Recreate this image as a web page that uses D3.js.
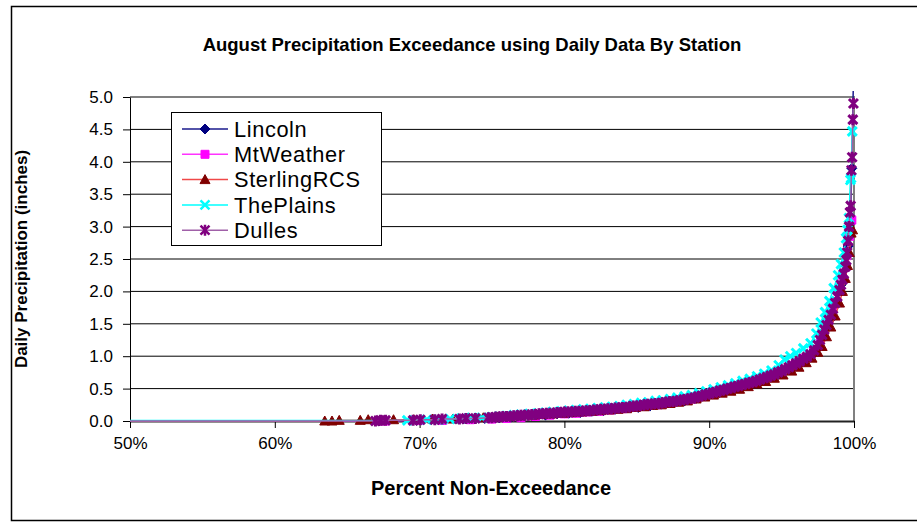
<!DOCTYPE html>
<html>
<head>
<meta charset="utf-8">
<script src="https://cdn.jsdelivr.net/npm/d3@7"></script>
<style>
body { margin: 0; background: #fff; }
svg { display: block; font-family: "Liberation Sans", Arial, sans-serif; }
</style>
</head>
<body>
<svg id="chart" width="917" height="527"></svg>
<script>
// tick values
var xTicks = [50, 60, 70, 80, 90, 100];
var yTicks = [0, 0.5, 1, 1.5, 2, 2.5, 3, 3.5, 4, 4.5, 5];

var stationNames = ["Lincoln", "MtWeather", "SterlingRCS", "ThePlains", "Dulles"];

// [percent non-exceedance, daily precipitation inches]
var lincoln = [[0, 0], [67.2, 0.00], [69.8, 0.01], [71.3, 0.02], [73.0, 0.03], [74.5, 0.04], [75.5, 0.05],
    [76.3, 0.06], [77.1, 0.07], [77.9, 0.08], [78.7, 0.09], [79.5, 0.11], [80.3, 0.12], [81.1, 0.13],
    [81.9, 0.15], [82.7, 0.16], [83.5, 0.18], [84.3, 0.20], [85.1, 0.21], [85.9, 0.23], [86.7, 0.26],
    [87.5, 0.28], [88.3, 0.31], [89.1, 0.35], [89.9, 0.39], [90.7, 0.44], [91.5, 0.48], [92.3, 0.53],
    [93.1, 0.58], [93.9, 0.64], [94.7, 0.71], [95.5, 0.80], [96.2, 0.89], [96.9, 0.99], [97.4, 1.10],
    [97.9, 1.30], [98.3, 1.55], [98.7, 1.80], [99.1, 2.10], [99.4, 2.40], [99.6, 2.70], [99.75, 3.05],
    [99.85, 3.90], [99.97, 5.40]];

var mtWeather = [[0, 0], [67.6, 0.00], [70.0, 0.01], [71.6, 0.01], [73.5, 0.02], [75.0, 0.03], [76.0, 0.04],
    [77.0, 0.05], [78.0, 0.07], [79.0, 0.09], [80.0, 0.11], [80.8, 0.12], [81.6, 0.14], [82.4, 0.15],
    [83.2, 0.17], [84.0, 0.19], [84.8, 0.21], [85.6, 0.23], [86.4, 0.25], [87.2, 0.28], [88.0, 0.31],
    [88.8, 0.34], [89.6, 0.38], [90.4, 0.43], [91.2, 0.48], [92.0, 0.53], [92.8, 0.58], [93.6, 0.64],
    [94.4, 0.70], [95.2, 0.78], [95.9, 0.86], [96.6, 0.96], [97.2, 1.08], [97.7, 1.28], [98.1, 1.50],
    [98.5, 1.75], [98.9, 2.00], [99.2, 2.25], [99.5, 2.55], [99.7, 2.85], [99.85, 3.10]];

var sterlingRCS = [[0, 0], [63.45, 0.00], [63.95, 0.00], [64.45, 0.01], [65.9, 0.01], [66.45, 0.02],
    [68.2, 0.02], [69.6, 0.02], [70.9, 0.03], [72.3, 0.03], [73.3, 0.04], [74.4, 0.05], [75.4, 0.06],
    [76.2, 0.07], [77.0, 0.08], [77.8, 0.09], [78.5, 0.10], [79.2, 0.11], [79.9, 0.12], [80.5, 0.13],
    [81.2, 0.14], [81.9, 0.15], [82.5, 0.16], [83.1, 0.17], [83.7, 0.18], [84.3, 0.19], [84.9, 0.21],
    [85.5, 0.22], [86.1, 0.24], [86.7, 0.25], [87.3, 0.27], [87.9, 0.29], [88.5, 0.31], [89.1, 0.34],
    [89.7, 0.37], [90.3, 0.40], [90.9, 0.43], [91.5, 0.46], [92.1, 0.49], [92.7, 0.53], [93.3, 0.57],
    [93.9, 0.61], [94.5, 0.66], [95.1, 0.71], [95.7, 0.77], [96.2, 0.83], [96.7, 0.90], [97.1, 0.97],
    [97.5, 1.06], [97.8, 1.15], [98.1, 1.30], [98.4, 1.45], [98.7, 1.62], [99.0, 1.82], [99.2, 2.00],
    [99.4, 2.20], [99.55, 2.40], [99.68, 2.60], [99.8, 2.90], [99.9, 2.95]];

var thePlains = [[0, 0], [69.15, 0.01], [70.5, 0.02], [71.3, 0.02], [72.1, 0.03], [72.9, 0.04], [73.6, 0.05],
    [74.3, 0.05], [75.0, 0.06], [75.5, 0.07], [76.0, 0.08], [76.5, 0.09], [77.0, 0.10], [77.6, 0.11],
    [78.2, 0.12], [78.7, 0.13], [79.2, 0.14], [79.8, 0.15], [80.3, 0.16], [80.8, 0.17], [81.3, 0.18],
    [81.8, 0.19], [82.3, 0.20], [82.8, 0.21], [83.3, 0.22], [83.8, 0.23], [84.3, 0.25], [84.8, 0.26],
    [85.3, 0.28], [85.8, 0.29], [86.3, 0.31], [86.8, 0.32], [87.3, 0.34], [87.8, 0.36], [88.3, 0.38],
    [88.8, 0.40], [89.3, 0.43], [89.8, 0.46], [90.3, 0.49], [90.8, 0.52], [91.3, 0.55], [91.8, 0.58],
    [92.3, 0.62], [92.8, 0.65], [93.3, 0.69], [93.8, 0.73], [94.3, 0.78], [94.8, 0.86], [95.2, 0.95],
    [95.6, 1.00], [96.0, 1.05], [96.5, 1.12], [97.0, 1.20], [97.4, 1.35], [97.7, 1.52], [98.0, 1.68],
    [98.3, 1.85], [98.6, 2.05], [98.9, 2.25], [99.1, 2.42], [99.3, 2.60], [99.45, 2.82], [99.55, 2.95],
    [99.65, 3.13], [99.75, 3.72], [99.8, 3.75], [99.88, 4.47]];

var dulles = [[0, 0], [66.95, 0.00], [67.3, 0.01], [67.65, 0.01], [69.55, 0.01], [70.05, 0.02], [71.05, 0.02],
    [71.55, 0.03], [72.75, 0.03], [73.2, 0.04], [73.85, 0.04], [74.75, 0.05], [75.0, 0.05], [75.25, 0.06],
    [75.5, 0.06], [75.75, 0.07], [76.0, 0.07], [76.25, 0.07], [76.5, 0.08], [76.75, 0.08], [77.0, 0.09],
    [77.25, 0.09], [77.5, 0.09], [77.75, 0.10], [78.0, 0.10], [78.25, 0.11], [78.5, 0.11], [78.75, 0.12],
    [79.0, 0.12], [79.25, 0.12], [79.5, 0.13], [79.75, 0.13], [80.0, 0.14], [80.25, 0.14], [80.5, 0.14],
    [80.75, 0.15], [81.0, 0.15], [81.25, 0.15], [81.5, 0.16], [81.75, 0.16], [82.0, 0.17], [82.25, 0.17],
    [82.5, 0.18], [82.75, 0.18], [83.0, 0.19], [83.25, 0.19], [83.5, 0.20], [83.75, 0.20], [84.0, 0.21],
    [84.25, 0.21], [84.5, 0.22], [84.75, 0.23], [85.0, 0.23], [85.25, 0.24], [85.5, 0.25], [85.75, 0.26],
    [86.0, 0.26], [86.25, 0.27], [86.5, 0.27], [86.75, 0.28], [87.0, 0.29], [87.25, 0.30], [87.5, 0.30],
    [87.75, 0.31], [88.0, 0.32], [88.25, 0.33], [88.5, 0.34], [88.75, 0.35], [89.0, 0.36], [89.25, 0.38],
    [89.5, 0.39], [89.75, 0.41], [90.0, 0.42], [90.25, 0.44], [90.5, 0.45], [90.75, 0.47], [91.0, 0.48],
    [91.25, 0.50], [91.5, 0.51], [91.75, 0.53], [92.0, 0.54], [92.25, 0.56], [92.5, 0.57], [92.75, 0.59],
    [93.0, 0.60], [93.25, 0.62], [93.5, 0.64], [93.75, 0.66], [94.0, 0.68], [94.25, 0.70], [94.5, 0.72],
    [94.75, 0.75], [95.0, 0.77], [95.25, 0.80], [95.5, 0.83], [95.75, 0.86], [96.0, 0.89], [96.25, 0.92],
    [96.5, 0.96], [96.75, 0.99], [97.0, 1.03], [97.25, 1.09], [97.5, 1.17], [97.65, 1.25], [97.8, 1.33],
    [97.95, 1.41], [98.1, 1.48], [98.25, 1.56], [98.4, 1.64], [98.55, 1.73], [98.7, 1.82], [98.85, 1.92],
    [99.0, 2.02], [99.1, 2.10], [99.2, 2.18], [99.3, 2.27], [99.4, 2.38], [99.47, 2.48], [99.53, 2.60],
    [99.6, 2.78], [99.66, 3.00], [99.72, 3.22], [99.77, 3.32], [99.82, 3.87], [99.87, 4.07], [99.92, 4.65],
    [99.96, 4.90]];

var stationData = [lincoln, mtWeather, sterlingRCS, thePlains, dulles];
var lineColors = ["#1a1a8c", "#ff33ff", "#f04848", "#00ffff", "#a060a8"];
var markerColors = ["#000080", "#ff00ff", "#800000", "#00ffff", "#800080"];
var markerShapes = ["diamond", "square", "triangle", "cross", "star"];

var plotLeft = 130, plotRight = 854, plotTop = 97, plotBottom = 421;

var x = d3.scaleLinear().domain([50, 100]).range([plotLeft, plotRight]);
var y = d3.scaleLinear().domain([0, 5]).range([plotBottom, plotTop]);

var svg = d3.select("#chart");

// chart area border
svg.append("rect")
    .attr("x", 11.5).attr("y", 6.5)
    .attr("width", 1000).attr("height", 514)
    .attr("fill", "#fff").attr("stroke", "#000").attr("stroke-width", 1.5);

// gridlines
svg.append("g").selectAll("line")
    .data(yTicks.filter(function (d) { return d > 0 && d < 5; }))
    .enter().append("line")
    .attr("x1", plotLeft).attr("x2", plotRight)
    .attr("y1", function (d) { return y(d); })
    .attr("y2", function (d) { return y(d); })
    .attr("stroke", "#000").attr("stroke-width", 1);

// plot area border (top, right)
svg.append("path")
    .attr("d", "M" + plotLeft + "," + plotTop + "H" + plotRight + "V" + plotBottom)
    .attr("fill", "none").attr("stroke", "#808080").attr("stroke-width", 2);

// axes
var yAxis = svg.append("g")
    .attr("transform", "translate(" + plotLeft + ",0)")
    .call(d3.axisLeft(y).tickValues(yTicks).tickFormat(d3.format(".1f")).tickSize(7).tickPadding(10).tickSizeOuter(0));
var xAxis = svg.append("g")
    .attr("transform", "translate(0," + plotBottom + ")")
    .call(d3.axisBottom(x).tickValues(xTicks).tickFormat(function (d) { return d + "%"; }).tickSize(7).tickPadding(9).tickSizeOuter(0));

svg.selectAll(".tick text")
    .attr("font-size", 17)
    .attr("font-family", "'Liberation Sans', Arial, sans-serif")
    .attr("fill", "#000");
svg.selectAll(".tick line").attr("stroke", "#000");
xAxis.select(".domain").attr("stroke", "#222").attr("stroke-width", 2);
yAxis.select(".domain").attr("stroke", "#000").attr("stroke-width", 1);

// clip for series
svg.append("clipPath").attr("id", "plotClip")
    .append("rect")
    .attr("x", plotLeft).attr("y", plotTop - 6)
    .attr("width", plotRight - plotLeft + 8).attr("height", plotBottom - plotTop + 12);

var line = d3.line()
    .x(function (d) { return x(d[0]); })
    .y(function (d) { return y(d[1]); });

function markerPath(shape) {
    if (shape === "diamond") return "M0,-5L5,0L0,5L-5,0Z";
    if (shape === "square") return "M-4,-4H4V4H-4Z";
    if (shape === "triangle") return "M0,-5L5,4L-5,4Z";
    if (shape === "cross") return "M-4.5,-4.5L4.5,4.5M-4.5,4.5L4.5,-4.5";
    return "M-4.5,-4.5L4.5,4.5M-4.5,4.5L4.5,-4.5M0,-5.5V5.5";
}

function drawMarkers(sel, shape, color) {
    var filled = shape === "diamond" || shape === "square" || shape === "triangle";
    sel.attr("d", markerPath(shape))
        .attr("fill", filled ? color : "none")
        .attr("stroke", color)
        .attr("stroke-width", filled ? 1 : 3);
}

var seriesG = svg.append("g").attr("clip-path", "url(#plotClip)");

stationData.forEach(function (data, i) {
    var g = seriesG.append("g");
    g.append("path")
        .datum(data)
        .attr("d", line)
        .attr("fill", "none")
        .attr("stroke", lineColors[i])
        .attr("stroke-width", 1.5);
    g.selectAll("path.mk")
        .data(data.slice(1))
        .enter().append("path")
        .attr("class", "mk")
        .attr("transform", function (d) { return "translate(" + x(d[0]) + "," + y(d[1]) + ")"; })
        .call(drawMarkers, markerShapes[i], markerColors[i]);
});

// titles
svg.append("text")
    .attr("x", 472).attr("y", 51)
    .attr("text-anchor", "middle")
    .attr("font-size", 18.5).attr("font-weight", "bold")
    .text("August Precipitation Exceedance using Daily Data By Station");

svg.append("text")
    .attr("x", 491).attr("y", 495)
    .attr("text-anchor", "middle")
    .attr("font-size", 20).attr("font-weight", "bold")
    .text("Percent Non-Exceedance");

svg.append("text")
    .attr("transform", "translate(27,259) rotate(-90)")
    .attr("text-anchor", "middle")
    .attr("font-size", 17).attr("font-weight", "bold")
    .text("Daily Precipitation (inches)");

// legend
var legend = svg.append("g");
legend.append("rect")
    .attr("x", 171.5).attr("y", 112.5)
    .attr("width", 210).attr("height", 133)
    .attr("fill", "#fff").attr("stroke", "#000").attr("stroke-width", 1);

var item = legend.selectAll("g.item")
    .data(stationNames)
    .enter().append("g")
    .attr("class", "item")
    .attr("transform", function (d, i) { return "translate(0," + (129 + i * 25.3) + ")"; });

item.append("line")
    .attr("x1", 182).attr("x2", 228)
    .attr("stroke", function (d, i) { return lineColors[i]; })
    .attr("stroke-width", 1.5);
item.append("path")
    .attr("transform", "translate(205,0)")
    .each(function (d, i) {
        drawMarkers(d3.select(this), markerShapes[i], markerColors[i]);
        d3.select(this).attr("stroke-width", markerShapes[i] === "cross" || markerShapes[i] === "star" ? 2.5 : 1);
    });
item.append("text")
    .attr("x", 234).attr("dy", "0.35em")
    .attr("font-size", 21.8)
    .attr("letter-spacing", 0.6)
    .text(function (d) { return d; });
</script>
</body>
</html>
